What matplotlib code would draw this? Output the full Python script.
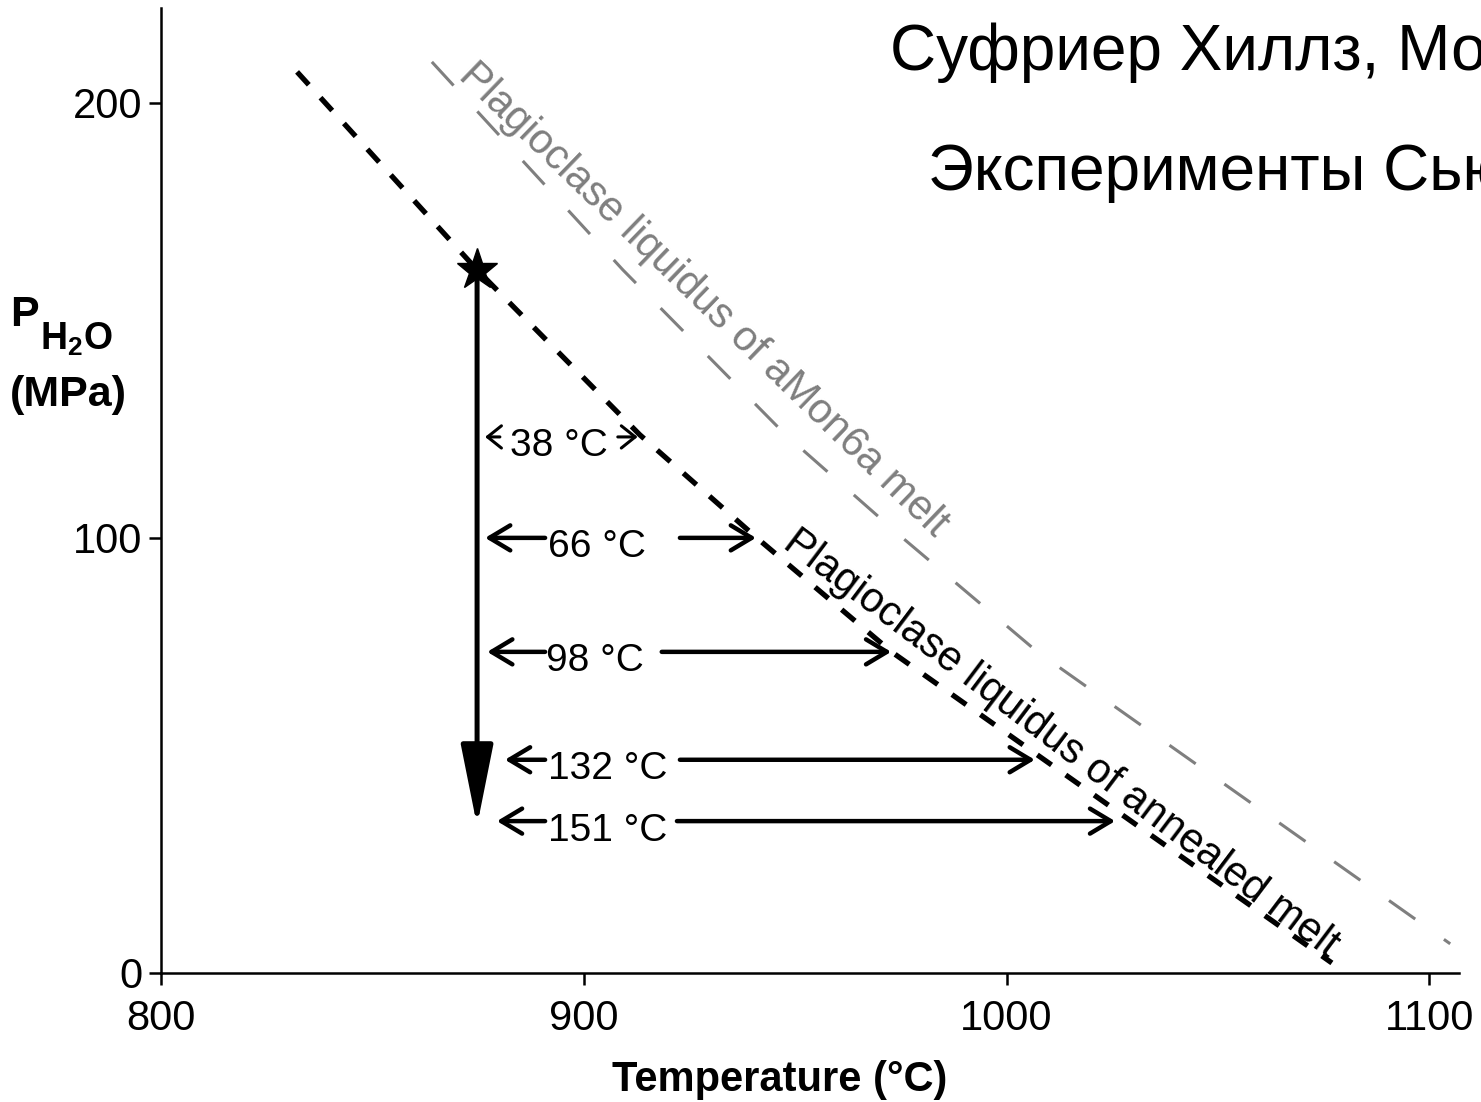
import numpy as np
import matplotlib.pyplot as plt

plt.rcParams['font.family'] = 'Liberation Sans'
plt.rcParams['mathtext.fontset'] = 'custom'
plt.rcParams['mathtext.rm'] = 'Liberation Sans'
plt.rcParams['mathtext.bf'] = 'Liberation Sans:bold'

# plagioclase liquidus of the annealed melt (T in C, P in MPa)
annealed_T = [832.1, 874.7, 913.2, 940.9, 972.8, 1007.9, 1077.0]
annealed_P = [207.1, 161.6, 123.7, 100.0, 73.8, 49.7, 2.3]

# plagioclase liquidus of the aMon6a melt
amon_T = [864.0, 909.2, 947.7, 975.4, 1007.3, 1042.4, 1105.0]
amon_P = [209.4, 161.6, 123.7, 100.0, 73.8, 49.7, 6.7]

# starting condition and decompression path
start_T = 874.7
start_P = 161.6
end_P = 33.8

# undercooling reached at each pressure step
dT = [38, 66, 98, 132, 151]
dT_P = [123.2, 100.0, 73.8, 49.0, 34.9]

# layout of the undercooling arrows (temperature positions)
text_T = [882.6, 891.6, 890.9, 891.6, 891.6]
left_tip_T = [876.6, 876.6, 877.1, 881.3, 879.4]
left_tail_T = [880.1, 890.8, 890.8, 890.8, 890.8]
right_tail_T = [908.0, 922.7, 918.4, 922.7, 922.0]

fig = plt.figure(figsize=(14.81, 11.02), dpi=100)
ax = fig.add_axes([0.1090, 0.1171, 0.8762, 0.8757])

ax.plot(annealed_T, annealed_P, color='black', lw=3.8, linestyle=(0, (3.3, 3.3)))
ax.plot(amon_T, amon_P, color='#7f7f7f', lw=2.2, linestyle=(0, (10.5, 11.5)))

# decompression arrow from the star
ax.annotate('', xy=(start_T, end_P), xytext=(start_T, start_P),
            arrowprops=dict(arrowstyle='-|>,head_length=2.5,head_width=0.5',
                            mutation_scale=20, lw=3.6, color='black',
                            shrinkA=0, shrinkB=0))
ax.plot(start_T, start_P, marker='*', ms=31, color='black', zorder=5)

small = dict(arrowstyle='->,head_length=0.5,head_width=0.4', mutation_scale=20,
             lw=2.2, color='black', shrinkA=0, shrinkB=0)
big = dict(arrowstyle='->,head_length=0.75,head_width=0.45', mutation_scale=20,
           lw=3.2, color='black', shrinkA=0, shrinkB=0)

for i, d in enumerate(dT):
    p = dT_P[i]
    props = small if i == 0 else big
    ax.annotate('', xy=(left_tip_T[i], p), xytext=(left_tail_T[i], p), arrowprops=props)
    ax.annotate('', xy=(start_T + d, p), xytext=(right_tail_T[i], p), arrowprops=props)
    ax.annotate(f'{d} °C', xy=(text_T[i], p), xytext=(0, -14), textcoords='offset points',
                fontsize=28, ha='left', va='baseline')

ax.text(869.9, 205.7, 'Plagioclase liquidus of aMon6a melt', rotation=-44,
        rotation_mode='anchor', ha='left', va='baseline', color='#7f7f7f', fontsize=30)
ax.text(946.7, 97.9, 'Plagioclase liquidus of annealed melt', rotation=-37,
        rotation_mode='anchor', ha='left', va='baseline', color='black', fontsize=30)

ax.set_xlim(800, 1107.1)
ax.set_ylim(0, 221.8)
ax.set_xticks([800, 900, 1000, 1100])
ax.set_yticks([0, 100, 200])
ax.spines['top'].set_visible(False)
ax.spines['right'].set_visible(False)
ax.spines['left'].set_linewidth(1.8)
ax.spines['bottom'].set_linewidth(1.8)
ax.tick_params(direction='out', length=8.6, width=1.8, labelsize=30)
ax.tick_params(axis='x', pad=10)
ax.tick_params(axis='y', pad=5)

fig.text(780 / 1481, 1 - 1080 / 1102, 'Temperature (°C)', fontsize=30,
         fontweight='bold', ha='center', va='center')
# axis label for water pressure, subscript set as its own text
fig.text(10 / 1481, 1 - 326 / 1102, 'P', fontsize=31, fontweight='bold', va='baseline')
fig.text(40 / 1481, 1 - 350 / 1102, r'$\mathbf{H_2O}$', fontsize=27, va='baseline')
fig.text(10 / 1481, 1 - 406 / 1102, '(MPa)', fontsize=31, fontweight='bold', va='baseline')

fig.text(890 / 1481, 1 - 70 / 1102, 'Суфриер Хиллз, Монтсеррат', fontsize=46,
         ha='left', va='baseline')
fig.text(928 / 1481, 1 - 190 / 1102, 'Эксперименты Сьюзен Кауч', fontsize=46,
         ha='left', va='baseline')

fig.savefig('out.png', dpi=100)
